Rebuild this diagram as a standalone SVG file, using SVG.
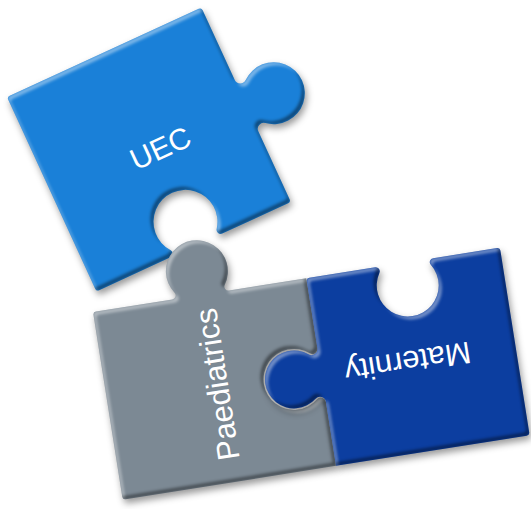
<svg xmlns="http://www.w3.org/2000/svg" width="531" height="509" viewBox="0 0 531 509">
  <defs>
    <style>
      .label { font-family: "Liberation Sans", Arial, sans-serif; fill: #ffffff; text-anchor: middle; }
      .uec { fill: #1a80d8; }
      .paed { fill: #7c8994; }
      .mat { fill: #0c3ea0; }
    </style>
    <!-- bevelled puzzle piece: drop shadow, light rim top-left, dark rim bottom-right -->
    <filter id="piece" x="-15%" y="-15%" width="130%" height="130%" color-interpolation-filters="sRGB">
      <feGaussianBlur in="SourceAlpha" stdDeviation="3.5" result="sb"/>
      <feOffset in="sb" dx="2" dy="4" result="so"/>
      <feFlood flood-color="#000" flood-opacity="0.4"/>
      <feComposite in2="so" operator="in" result="shadow"/>
      <feOffset in="SourceAlpha" dx="3" dy="3" result="o1"/>
      <feComposite in="SourceAlpha" in2="o1" operator="out" result="r1"/>
      <feGaussianBlur in="r1" stdDeviation="1.5" result="r1b"/>
      <feComposite in="r1b" in2="SourceAlpha" operator="in" result="r1c"/>
      <feFlood flood-color="#fff" flood-opacity="0.45"/>
      <feComposite in2="r1c" operator="in" result="hi"/>
      <feOffset in="SourceAlpha" dx="-3" dy="-3" result="o2"/>
      <feComposite in="SourceAlpha" in2="o2" operator="out" result="r2"/>
      <feGaussianBlur in="r2" stdDeviation="1.5" result="r2b"/>
      <feComposite in="r2b" in2="SourceAlpha" operator="in" result="r2c"/>
      <feFlood flood-color="#000" flood-opacity="0.45"/>
      <feComposite in2="r2c" operator="in" result="lo"/>
      <feMerge>
        <feMergeNode in="shadow"/>
        <feMergeNode in="SourceGraphic"/>
        <feMergeNode in="hi"/>
        <feMergeNode in="lo"/>
      </feMerge>
    </filter>
  </defs>

  <g id="connectors"/>

  <!-- UEC piece: knob on the right edge, blank on the bottom edge -->
  <g id="node-uec">
    <g filter="url(#piece)">
      <path class="uec" transform="translate(7,97) rotate(-24.7)"
        d="M 3,0 H 211 A 3 3 0 0 1 214,3 V 79.84 A 6 6 0 0 0 223.89,84.4 A 31 31 0 1 1 223.89,131.6 A 6 6 0 0 0 214,136.16 V 211 A 3 3 0 0 1 211,214 H 138.5 A 4 4 0 0 1 135.3,207.6 A 32 32 0 1 0 84.7,207.6 A 4 4 0 0 1 81.5,214 H 3 A 3 3 0 0 1 0,211 V 3 A 3 3 0 0 1 3,0 Z"/>
    </g>
    <text class="label" transform="translate(7,97) rotate(-24.7)" x="118" y="121" font-size="30">UEC</text>
  </g>

  <!-- Paediatrics piece: knob on top, blank on the right edge -->
  <g id="node-paediatrics">
    <g filter="url(#piece)">
      <path class="paed" transform="translate(93,312) rotate(-9)"
        d="M 3,0 H 80.28 A 4 4 0 0 0 83.56,-6.29 A 31 31 0 1 1 134.44,-6.29 A 4 4 0 0 0 137.72,0 H 216 V 70.96 A 5 5 0 0 1 207.76,74.77 A 30.5 30.5 0 1 0 207.76,121.23 A 5 5 0 0 1 216,125.04 V 190 H 3 A 3 3 0 0 1 0,187 V 3 A 3 3 0 0 1 3,0 Z"/>
    </g>
    <text class="label" transform="translate(93,312) rotate(-9) translate(122,91) rotate(-90)" x="0" y="0" font-size="31">Paediatrics</text>
  </g>

  <!-- Maternity piece: knob on the left edge, blank on the top edge -->
  <g id="node-maternity">
    <g filter="url(#piece)">
      <path class="mat" transform="translate(93,312) rotate(-9)"
        d="M 219,0 H 285.61 A 4 4 0 0 1 288.97,6.17 A 31 31 0 1 0 341.03,6.17 A 4 4 0 0 1 344.39,0 H 409 A 3 3 0 0 1 412,3 V 187 A 3 3 0 0 1 409,190 H 216 V 125.22 A 6 6 0 0 0 206.23,120.55 A 29 29 0 1 1 206.23,75.45 A 6 6 0 0 0 216,70.78 V 3 A 3 3 0 0 1 219,0 Z"/>
    </g>
    <text class="label" transform="translate(93,312) rotate(-9) translate(303,88) rotate(180)" x="0" y="0" font-size="31">Maternity</text>
  </g>
</svg>
